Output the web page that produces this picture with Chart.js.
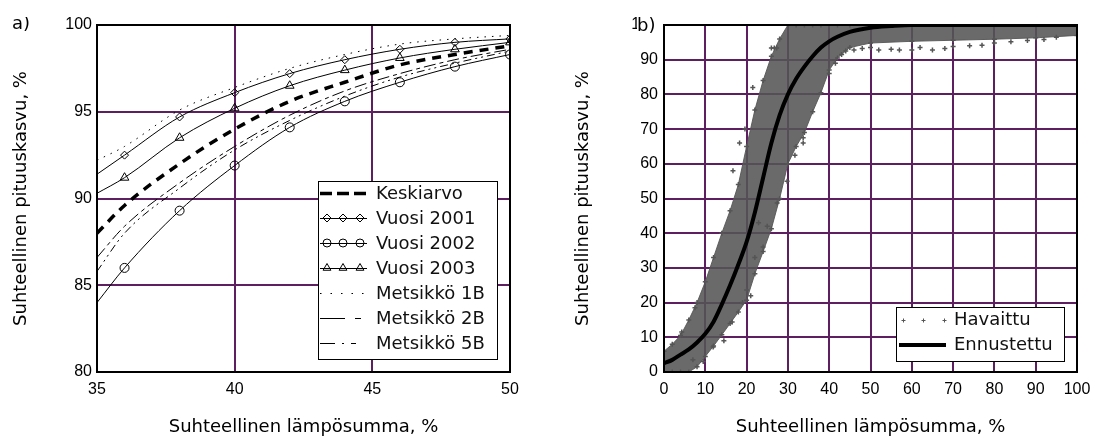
<!DOCTYPE html>
<html><head><meta charset="utf-8">
<script src="https://cdn.jsdelivr.net/npm/chart.js@4.4.1/dist/chart.umd.min.js"></script>
<style>
html,body{margin:0;padding:0;background:#fff;}
#wrap{position:relative;width:1097px;height:439px;overflow:hidden;background:#fff;}
#ca{position:absolute;left:0;top:0;}
#cb{position:absolute;left:548px;top:0;}
</style></head><body>
<div id="wrap"><canvas id="ca" width="548" height="439"></canvas><canvas id="cb" width="549" height="439"></canvas></div>
<script>
// ---------- Panel a) data ----------
const aX = [35, 36, 38, 40, 42, 44, 46, 48, 50];
const keskiarvo  = [88.0, 89.6, 92.0, 94.0, 95.6, 96.7, 97.7, 98.3, 98.8];
const vuosi2001  = [91.4, 92.5, 94.7, 96.1, 97.2, 98.0, 98.6, 99.0, 99.2];
const vuosi2002  = [84.0, 86.0, 89.3, 91.9, 94.1, 95.6, 96.7, 97.6, 98.3];
const vuosi2003  = [90.3, 91.2, 93.5, 95.2, 96.5, 97.4, 98.1, 98.6, 99.0];
const metsikko1B = [92.2, 93.0, 95.1, 96.4, 97.5, 98.3, 98.9, 99.2, 99.4];
const metsikko2B = [86.6, 88.4, 90.9, 93.0, 94.8, 96.2, 97.2, 98.0, 98.6];
const metsikko5B = [85.8, 88.0, 90.6, 92.8, 94.5, 95.9, 97.0, 97.8, 98.5];
const aXTicks = [35, 40, 45, 50];
const aYTicks = [80, 85, 90, 95, 100];

// ---------- Panel b) data ----------
const bandX     = [0, 2, 4, 6, 8, 10, 12, 14, 16, 18, 20, 22, 24, 26, 28, 30, 32, 34, 36, 38, 40, 42, 45, 50, 60, 70, 80, 90, 100];
const bandUpper = [6, 8, 10.5, 15, 20, 26, 33, 40, 46.5, 54, 65, 75.5, 84, 91, 96, 100, 100, 100, 100, 100, 100, 100, 100, 100, 100, 100, 100, 100, 100];
const bandLower = [0, 0, 0, 0, 1.5, 4.5, 7.5, 10.7, 14, 17.3, 20.7, 28.3, 34.7, 41.3, 50, 60, 65, 69, 75, 80.5, 87, 90.5, 93.5, 94.8, 95.3, 95.6, 95.9, 96.3, 97];
const havaittuX = [4.3, 7.5, 7, 9.5, 11.9, 14.5, 16.5, 19, 20, 21, 22, 22.9, 24, 25, 27.4, 29.8, 31.7, 33.7, 33.7, 16.7, 18.3, 19.6, 21.5, 26, 26.7, 27.3, 40, 41.5, 43, 44, 46, 48, 50, 52, 55, 57, 60, 62, 65, 68, 70, 74, 77, 80, 84, 88, 92, 95];
const havaittuY = [11.5, 18.5, 3.5, 3, 7.2, 9, 14.4, 20, 23.6, 22, 33, 43, 36, 42, 48.7, 55, 62.5, 66, 67.5, 58, 66, 70, 82, 93.4, 93.4, 93.4, 86, 89, 91.5, 92.5, 92.8, 93.2, 93.5, 92.8, 93, 92.8, 92.8, 93.5, 92.8, 93.2, 93.8, 94, 94.2, 94.8, 95.2, 95.5, 95.8, 96.5];
const ennX = [0, 2, 4, 6, 8, 10, 12, 14, 16, 18, 20, 22, 24, 26, 28, 30, 32, 34, 36, 38, 40, 42, 45, 50, 55, 60, 70, 80, 90, 100];
const ennY = [2.5, 3.5, 5, 6.5, 8.5, 11, 14.5, 19.5, 25, 31, 37.5, 46, 56, 66, 74, 80, 84.5, 88, 91, 93.5, 95.3, 96.6, 98, 99.2, 99.7, 100, 100, 100, 100, 100];
const bTicks = [0, 10, 20, 30, 40, 50, 60, 70, 80, 90, 100];

// ---------- helpers ----------
const GRID = '#5e1f60';
const TICKFONT = {family: 'Liberation Sans', size: 16};
const TITLEFONT = {family: 'DejaVu Sans', size: 18};
const pts = (xs, ys) => xs.map((x, i) => ({x: x, y: ys[i]}));
const setTicks = arr => s => { s.ticks = arr.map(v => ({value: v})); };

const framePlugin = {
  id: 'frame',
  afterDatasetsDraw(chart) {
    const {ctx, chartArea: a} = chart;
    ctx.save();
    ctx.strokeStyle = '#000';
    ctx.lineWidth = 2;
    ctx.strokeRect(a.left, a.top, a.right - a.left, a.bottom - a.top);
    ctx.restore();
  }
};

function marker(ctx, style, x, y, r) {
  ctx.beginPath();
  if (style === 'circle') {
    ctx.arc(x, y, r, 0, Math.PI * 2);
  } else if (style === 'rectRot') {
    ctx.moveTo(x, y - r); ctx.lineTo(x + r, y); ctx.lineTo(x, y + r); ctx.lineTo(x - r, y); ctx.closePath();
  } else if (style === 'triangle') {
    ctx.moveTo(x, y - r); ctx.lineTo(x + r * 0.866, y + r * 0.5); ctx.lineTo(x - r * 0.866, y + r * 0.5); ctx.closePath();
  } else if (style === 'cross') {
    ctx.moveTo(x - r, y); ctx.lineTo(x + r, y); ctx.moveTo(x, y - r); ctx.lineTo(x, y + r);
  }
  ctx.stroke();
}

const legendA = {
  id: 'legendA',
  afterDraw(chart) {
    const ctx = chart.ctx;
    const x0 = 318, y0 = 181, x1 = 498, y1 = 360;
    ctx.save();
    ctx.fillStyle = '#fff';
    ctx.fillRect(x0, y0, x1 - x0, y1 - y0);
    ctx.strokeStyle = '#000'; ctx.lineWidth = 1;
    ctx.strokeRect(x0 + 0.5, y0 + 0.5, x1 - x0 - 1, y1 - y0 - 1);
    const sx0 = 320, sx1 = 367, tx = 376;
    const items = [
      {label: 'Keskiarvo', w: 3.5, dash: [12, 5]},
      {label: 'Vuosi 2001', w: 1, dash: [], m: 'rectRot', r: 4},
      {label: 'Vuosi 2002', w: 1, dash: [], m: 'circle', r: 4},
      {label: 'Vuosi 2003', w: 1, dash: [], m: 'triangle', r: 4.5},
      {label: 'Metsikkö 1B', w: 1, dash: [1.5, 9]},
      {label: 'Metsikkö 2B', w: 1, dash: [25, 10, 6, 20]},
      {label: 'Metsikkö 5B', w: 1, dash: [15, 7, 2, 7, 5, 20]}
    ];
    items.forEach((it, i) => {
      const y = 193 + i * 25;
      ctx.strokeStyle = '#000';
      ctx.lineWidth = it.w;
      ctx.setLineDash(it.dash);
      ctx.beginPath(); ctx.moveTo(sx0, y + 0.5); ctx.lineTo(sx1, y + 0.5); ctx.stroke();
      ctx.setLineDash([]);
      if (it.m) {
        ctx.lineWidth = 1;
        [327, 343, 360].forEach(mx => marker(ctx, it.m, mx, y, it.r));
      }
      ctx.fillStyle = '#111';
      ctx.font = '18px "DejaVu Sans"';
      ctx.textBaseline = 'middle';
      ctx.textAlign = 'left';
      ctx.fillText(it.label, tx, y + 1);
    });
    // panel label a)
    ctx.save();
    ctx.beginPath(); ctx.rect(0, 17, 60, 30); ctx.clip();
    ctx.fillStyle = '#000';
    ctx.font = '18px "DejaVu Sans"';
    ctx.textBaseline = 'alphabetic';
    ctx.fillText('a)', 12, 29);
    ctx.restore();
    ctx.restore();
  }
};

const legendB = {
  id: 'legendB',
  afterDraw(chart) {
    const ctx = chart.ctx;
    const x0 = 348, y0 = 307, x1 = 517, y1 = 362;
    ctx.save();
    ctx.fillStyle = '#fff';
    ctx.fillRect(x0, y0, x1 - x0, y1 - y0);
    ctx.strokeStyle = '#000'; ctx.lineWidth = 1;
    ctx.strokeRect(x0 + 0.5, y0 + 0.5, x1 - x0 - 1, y1 - y0 - 1);
    // Havaittu
    ctx.strokeStyle = '#555'; ctx.lineWidth = 1;
    [355, 375, 396].forEach(mx => marker(ctx, 'cross', mx + 0.5, 320.5, 2));
    // Ennustettu
    ctx.strokeStyle = '#000'; ctx.lineWidth = 4;
    ctx.beginPath(); ctx.moveTo(351, 345); ctx.lineTo(398, 345); ctx.stroke();
    ctx.fillStyle = '#111';
    ctx.font = '18px "DejaVu Sans"';
    ctx.textBaseline = 'middle';
    ctx.textAlign = 'left';
    ctx.fillText('Havaittu', 406, 320);
    ctx.fillText('Ennustettu', 406, 345);
    // panel label b) over the top tick label
    ctx.fillStyle = '#fff';
    ctx.fillRect(89, 16, 22, 18);
    ctx.fillStyle = '#000';
    ctx.fillText('b)', 89, 26);
    ctx.restore();
  }
};

function lineDS(label, ys, dash, width, pstyle, prad) {
  return {
    label: label,
    data: pts(aX, ys),
    showLine: true,
    borderColor: '#000',
    borderWidth: width,
    borderDash: dash,
    backgroundColor: 'rgba(0,0,0,0)',
    pointStyle: pstyle || 'circle',
    pointRadius: pstyle ? (c => (c.raw && c.raw.x >= 36 ? prad : 0)) : 0,
    pointBorderColor: '#000',
    pointBackgroundColor: 'rgba(0,0,0,0)',
    pointBorderWidth: 1,
    cubicInterpolationMode: 'monotone',
    fill: false
  };
}

new Chart(document.getElementById('ca'), {
  type: 'scatter',
  data: {
    datasets: [
      lineDS('Keskiarvo', keskiarvo, [9, 7], 3.5),
      lineDS('Vuosi 2001', vuosi2001, [], 1, 'rectRot', 4),
      lineDS('Vuosi 2002', vuosi2002, [], 1, 'circle', 4.5),
      lineDS('Vuosi 2003', vuosi2003, [], 1, 'triangle', 5),
      lineDS('Metsikkö 1B', metsikko1B, [1.5, 6], 1),
      lineDS('Metsikkö 2B', metsikko2B, [12, 4, 4, 4], 1),
      lineDS('Metsikkö 5B', metsikko5B, [8, 4, 2, 4, 2, 4], 1)
    ]
  },
  options: {
    responsive: false, animation: false, devicePixelRatio: 1,
    layout: {padding: {left: 0, right: 38, top: 25, bottom: 0}},
    plugins: {legend: {display: false}, tooltip: {enabled: false}},
    scales: {
      x: {
        type: 'linear', min: 35, max: 50,
        afterBuildTicks: setTicks(aXTicks),
        afterFit: s => { s.height = 67; s.paddingLeft = 0; s.paddingRight = 0; },
        grid: {color: GRID, lineWidth: 2, drawTicks: false},
        border: {color: '#000', width: 2},
        ticks: {padding: 8, color: '#000', font: TICKFONT, maxRotation: 0, autoSkip: false},
        title: {display: true, text: 'Suhteellinen lämpösumma, %', color: '#000', font: TITLEFONT, padding: {top: 0, bottom: 1}}
      },
      y: {
        type: 'linear', min: 80, max: 100,
        afterBuildTicks: setTicks(aYTicks),
        afterFit: s => { s.width = 97; s.paddingTop = 0; s.paddingBottom = 0; },
        grid: {color: GRID, lineWidth: 2, drawTicks: false},
        border: {color: '#000', width: 2},
        ticks: {padding: 5, color: '#000', font: TICKFONT, autoSkip: false},
        title: {display: true, text: 'Suhteellinen pituuskasvu, %', color: '#000', font: TITLEFONT, padding: {top: 11, bottom: 0}}
      }
    }
  },
  plugins: [framePlugin, legendA]
});

new Chart(document.getElementById('cb'), {
  type: 'scatter',
  data: {
    datasets: [
      {
        label: 'Ennustettu', data: pts(ennX, ennY), showLine: true,
        borderColor: '#000', borderWidth: 4, pointRadius: 0,
        cubicInterpolationMode: 'monotone', fill: false
      },
      {
        label: 'Havaittu', data: pts(havaittuX, havaittuY), showLine: false,
        pointStyle: 'cross', pointRadius: 2.5, pointBorderWidth: 1.5,
        pointBorderColor: '#555', pointBackgroundColor: '#555'
      },
      {
        label: 'Havaittu (ylä)', data: pts(bandX, bandUpper), showLine: true,
        borderColor: 'rgba(85,85,85,0.9)', borderWidth: 1,
        backgroundColor: 'rgba(85,85,85,0.88)', fill: '+1',
        pointStyle: 'cross', pointRadius: 2.5, pointBorderWidth: 1.5, pointBorderColor: '#555'
      },
      {
        label: 'Havaittu (ala)', data: pts(bandX, bandLower), showLine: true,
        borderColor: 'rgba(85,85,85,0.9)', borderWidth: 1, fill: false,
        pointStyle: 'cross', pointRadius: 2.5, pointBorderWidth: 1.5, pointBorderColor: '#555'
      }
    ]
  },
  options: {
    responsive: false, animation: false, devicePixelRatio: 1,
    layout: {padding: {left: 0, right: 20, top: 25, bottom: 0}},
    plugins: {legend: {display: false}, tooltip: {enabled: false}},
    scales: {
      x: {
        type: 'linear', min: 0, max: 100,
        afterBuildTicks: setTicks(bTicks),
        afterFit: s => { s.height = 67; s.paddingLeft = 0; s.paddingRight = 0; },
        grid: {color: GRID, lineWidth: 2, drawTicks: false},
        border: {color: '#000', width: 2},
        ticks: {padding: 8, color: '#000', font: TICKFONT, maxRotation: 0, autoSkip: false},
        title: {display: true, text: 'Suhteellinen lämpösumma, %', color: '#000', font: TITLEFONT, padding: {top: 0, bottom: 1}}
      },
      y: {
        type: 'linear', min: 0, max: 100,
        afterBuildTicks: setTicks(bTicks),
        afterFit: s => { s.width = 116; s.paddingTop = 0; s.paddingBottom = 0; },
        grid: {color: GRID, lineWidth: 2, drawTicks: false},
        border: {color: '#000', width: 2},
        ticks: {padding: 6, color: '#000', font: TICKFONT, autoSkip: false},
        title: {display: true, text: 'Suhteellinen pituuskasvu, %', color: '#000', font: TITLEFONT, padding: {top: 25, bottom: 0}}
      }
    }
  },
  plugins: [framePlugin, legendB]
});
</script>
</body></html>
